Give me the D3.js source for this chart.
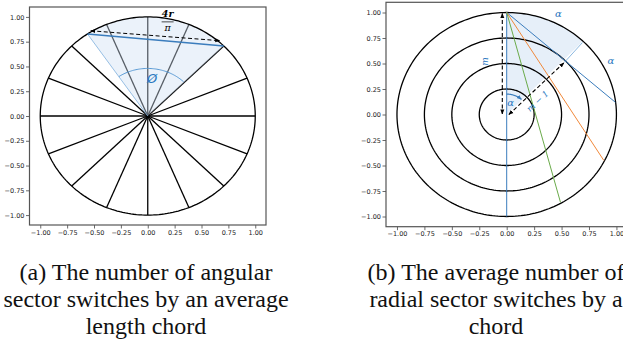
<!DOCTYPE html>
<html>
<head>
<meta charset="utf-8">
<script src="https://cdn.jsdelivr.net/npm/d3@7"></script>
<style>
  html, body { margin: 0; padding: 0; background: #fff; }
  svg { display: block; }
</style>
</head>
<body>
<svg id="fig" width="623" height="341"></svg>
<script>
// ---------------- data ----------------
const tickValues = [-1, -0.75, -0.5, -0.25, 0, 0.25, 0.5, 0.75, 1];
const domainLim = [-1.1, 1.1];

// (a) angular sectors
const sectorAngles = [0, 22.5, 45, 67.5, 90, 112.5, 135, 157.5, 180, 202.5, 225, 247.5, 270, 292.5, 315, 337.5];
const wedgeA = [45, 124.1];               // shaded sector (deg)
const chordA = [124.1, 45];               // average length chord endpoints (deg on unit circle)
const dashedA = [[-0.53, 0.86], [0.67, 0.76]];
const arcPhi = { r: 0.48, from: 46, to: 124 };
const labelPhi = { text: "Ø", x: 0.04, y: 0.33 };
const fracA = { num: "4r", den: "π", x: 0.185, yNum: 0.995, yBar: 0.95, yDen: 0.855 };

// (b) radial rings
const ringRadii = [0.25, 0.5, 0.75, 1.0];
const chordStart = [0, 1];
const chordEndsB = [[0.99, 0.12], [0.885, -0.45], [0.49, -0.86]];
const chordColorsB = ["#3b7dbd", "#f0883a", "#6aaa4a"];
const verticalB = [[0, -1], [0, 1]];
const wedgeB = [46, 90];
const wedgeEdgeB = [[0.525, 0.51], [0.69, 0.705]];
const dashedM = [[-0.04, 0.99], [-0.04, 0.005]];
const dashedM1 = [[0.02, 0.0], [0.52, 0.505]];
const arcAlpha = { r: 0.2, from: 90, to: 48 };
const alphaLabels = [[0.47, 0.955], [0.95, 0.5], [0.035, 0.085]];
const labelM = { text: "m", x: -0.17, y: 0.52 };
const labelM1 = { text: "m − 1", x: 0.3, y: 0.11 };

const captionA = ["(a) The number of angular", "sector switches by an average", "length chord"];
const captionB = ["(b) The average number of", "radial sector switches by a", "chord"];

// ---------------- drawing ----------------
const svg = d3.select("#fig");
const rad = d => d * Math.PI / 180;
const C0 = "#3b7dbd";

const defs = svg.append("defs");
defs.append("marker").attr("id", "ah").attr("viewBox", "0 0 10 10")
  .attr("refX", 9).attr("refY", 5).attr("markerWidth", 5).attr("markerHeight", 5)
  .attr("orient", "auto-start-reverse").attr("markerUnits", "userSpaceOnUse")
  .append("path").attr("d", "M0,1 L10,5 L0,9 Z").attr("fill", "#000");
defs.append("marker").attr("id", "ahb").attr("viewBox", "0 0 10 10")
  .attr("refX", 9).attr("refY", 5).attr("markerWidth", 5).attr("markerHeight", 5)
  .attr("orient", "auto").attr("markerUnits", "userSpaceOnUse")
  .append("path").attr("d", "M0,1 L10,5 L0,9 Z").attr("fill", C0);

function makePanel(xRange, yRange) {
  const x = d3.scaleLinear().domain(domainLim).range(xRange);
  const y = d3.scaleLinear().domain(domainLim).range(yRange);
  return { x, y };
}

function drawAxes(g, x, y) {
  const ax = d3.axisBottom(x).tickValues(tickValues).tickFormat(d3.format(".2f")).tickSizeOuter(0).tickSize(3.5).tickPadding(1.5);
  const ay = d3.axisLeft(y).tickValues(tickValues).tickFormat(d3.format(".2f")).tickSizeOuter(0).tickSize(3.5).tickPadding(1.5);
  const gx = g.append("g").attr("transform", `translate(0,${y.range()[0]})`).call(ax);
  const gy = g.append("g").attr("transform", `translate(${x.range()[0]},0)`).call(ay);
  [gx, gy].forEach(a => {
    a.select(".domain").remove();
    a.selectAll("line").attr("stroke", "#444").attr("stroke-width", 0.8);
    a.selectAll("text").attr("fill", "#222").style("font-family", "DejaVu Sans").style("font-size", "6.5px");
  });
  g.append("rect")
    .attr("x", x.range()[0]).attr("y", y.range()[1])
    .attr("width", x.range()[1] - x.range()[0]).attr("height", y.range()[0] - y.range()[1])
    .attr("fill", "none").attr("stroke", "#555").attr("stroke-width", 1.2);
}

function circlePath(x, y, r, a0 = 0, a1 = 360, n = 240) {
  const pts = d3.range(n + 1).map(i => {
    const a = rad(a0 + (a1 - a0) * i / n);
    return [x(r * Math.cos(a)), y(r * Math.sin(a))];
  });
  return d3.line()(pts);
}
function wedgePath(x, y, r, a0, a1) {
  const pts = [[x(0), y(0)]];
  d3.range(121).forEach(i => {
    const a = rad(a0 + (a1 - a0) * i / 120);
    pts.push([x(r * Math.cos(a)), y(r * Math.sin(a))]);
  });
  return d3.line()(pts) + "Z";
}

// ----- panel (a) -----
{
  const { x, y } = makePanel([29.5, 266], [225, 7]);
  const g = svg.append("g");

  g.selectAll("line.sector").data(sectorAngles).join("line")
    .attr("x1", x(0)).attr("y1", y(0))
    .attr("x2", d => x(Math.cos(rad(d)))).attr("y2", d => y(Math.sin(rad(d))))
    .attr("stroke", "#000").attr("stroke-width", 1.3);

  g.append("path").attr("d", wedgePath(x, y, 1, wedgeA[0], wedgeA[1]))
    .attr("fill", "#cfe0f3").attr("fill-opacity", 0.42);
  g.append("line")
    .attr("x1", x(0)).attr("y1", y(0))
    .attr("x2", x(Math.cos(rad(wedgeA[1])))).attr("y2", y(Math.sin(rad(wedgeA[1]))))
    .attr("stroke", "#7fb0dd").attr("stroke-width", 0.8);

  g.append("path").attr("d", circlePath(x, y, 1)).attr("fill", "none")
    .attr("stroke", "#000").attr("stroke-width", 1.3);

  g.append("path").attr("d", circlePath(x, y, arcPhi.r, arcPhi.from, arcPhi.to, 60))
    .attr("fill", "none").attr("stroke", "#5a9bd5").attr("stroke-width", 1);
  g.append("text").attr("x", x(labelPhi.x)).attr("y", y(labelPhi.y))
    .attr("text-anchor", "middle").attr("fill", "#2a78c0")
    .style("font-family", "DejaVu Sans").style("font-style", "italic").style("font-size", "13px")
    .text(labelPhi.text);

  g.append("line")
    .attr("x1", x(Math.cos(rad(chordA[0])))).attr("y1", y(Math.sin(rad(chordA[0]))))
    .attr("x2", x(Math.cos(rad(chordA[1])))).attr("y2", y(Math.sin(rad(chordA[1]))))
    .attr("stroke", C0).attr("stroke-width", 1.5);

  g.append("line")
    .attr("x1", x(dashedA[0][0])).attr("y1", y(dashedA[0][1]))
    .attr("x2", x(dashedA[1][0])).attr("y2", y(dashedA[1][1]))
    .attr("stroke", "#000").attr("stroke-width", 1).attr("stroke-dasharray", "4,2.5")
    .attr("marker-start", "url(#ah)").attr("marker-end", "url(#ah)");

  const ff = g.append("g").style("font-family", "DejaVu Serif").style("font-size", "9.5px").attr("fill", "#000");
  ff.append("text").attr("x", x(fracA.x)).attr("y", y(fracA.yNum)).attr("text-anchor", "middle")
    .style("font-weight", "bold").style("font-style", "italic").text(fracA.num);
  ff.append("line").attr("x1", x(fracA.x) - 6).attr("x2", x(fracA.x) + 6)
    .attr("y1", y(fracA.yBar)).attr("y2", y(fracA.yBar)).attr("stroke", "#000").attr("stroke-width", 0.7);
  ff.append("text").attr("x", x(fracA.x)).attr("y", y(fracA.yDen)).attr("text-anchor", "middle")
    .style("font-style", "italic").text(fracA.den);

  drawAxes(g, x, y);
}

// ----- panel (b) -----
{
  const { x, y } = makePanel([386, 627.4], [226.7, 2.3]);
  const g = svg.append("g");

  g.append("path").attr("d", wedgePath(x, y, 1, wedgeB[0], wedgeB[1]))
    .attr("fill", "#e3edf8").attr("fill-opacity", 0.9);

  g.selectAll("path.ring").data(ringRadii).join("path")
    .attr("d", r => circlePath(x, y, r)).attr("fill", "none")
    .attr("stroke", "#000").attr("stroke-width", 1.3);

  g.append("line")
    .attr("x1", x(wedgeEdgeB[0][0])).attr("y1", y(wedgeEdgeB[0][1]))
    .attr("x2", x(wedgeEdgeB[1][0])).attr("y2", y(wedgeEdgeB[1][1]))
    .attr("stroke", "#7fb0dd").attr("stroke-width", 0.9);

  g.append("line")
    .attr("x1", x(verticalB[0][0])).attr("y1", y(verticalB[0][1]))
    .attr("x2", x(verticalB[1][0])).attr("y2", y(verticalB[1][1]))
    .attr("stroke", C0).attr("stroke-width", 1);

  g.selectAll("line.chord").data(chordEndsB).join("line")
    .attr("x1", x(chordStart[0])).attr("y1", y(chordStart[1]))
    .attr("x2", d => x(d[0])).attr("y2", d => y(d[1]))
    .attr("stroke", (d, i) => chordColorsB[i]).attr("stroke-width", 1);

  [dashedM, dashedM1].forEach(p => {
    g.append("line")
      .attr("x1", x(p[0][0])).attr("y1", y(p[0][1]))
      .attr("x2", x(p[1][0])).attr("y2", y(p[1][1]))
      .attr("stroke", "#000").attr("stroke-width", 1.1).attr("stroke-dasharray", "4,2.5")
      .attr("marker-start", "url(#ah)").attr("marker-end", "url(#ah)");
  });

  g.append("path").attr("d", circlePath(x, y, arcAlpha.r, arcAlpha.from, arcAlpha.to, 40))
    .attr("fill", "none").attr("stroke", C0).attr("stroke-width", 1.2)
    .attr("marker-end", "url(#ahb)");

  const lab = g.append("g").attr("fill", "#2a78c0")
    .style("font-family", "DejaVu Serif").style("font-style", "italic");
  lab.selectAll("text.alpha").data(alphaLabels).join("text")
    .attr("x", d => x(d[0])).attr("y", d => y(d[1])).attr("text-anchor", "middle")
    .style("font-size", "10px").text("α");
  lab.append("text").attr("transform", `translate(${x(labelM.x)},${y(labelM.y)}) rotate(-90)`)
    .attr("text-anchor", "middle").style("font-size", "9px").text(labelM.text);
  lab.append("text").attr("transform", `translate(${x(labelM1.x)},${y(labelM1.y)}) rotate(-43)`)
    .attr("text-anchor", "middle").style("font-size", "8.5px").text(labelM1.text);

  drawAxes(g, x, y);
}

// ----- captions -----
function caption(lines, cx) {
  svg.append("g").style("font-family", "'Liberation Serif', 'Times New Roman', serif").style("font-size", "24px").attr("fill", "#111")
    .selectAll("text").data(lines).join("text")
    .attr("x", cx).attr("y", (d, i) => 280 + i * 27).attr("text-anchor", "middle").text(d => d);
}
caption(captionA, 146);
caption(captionB, 496);
</script>
</body>
</html>
